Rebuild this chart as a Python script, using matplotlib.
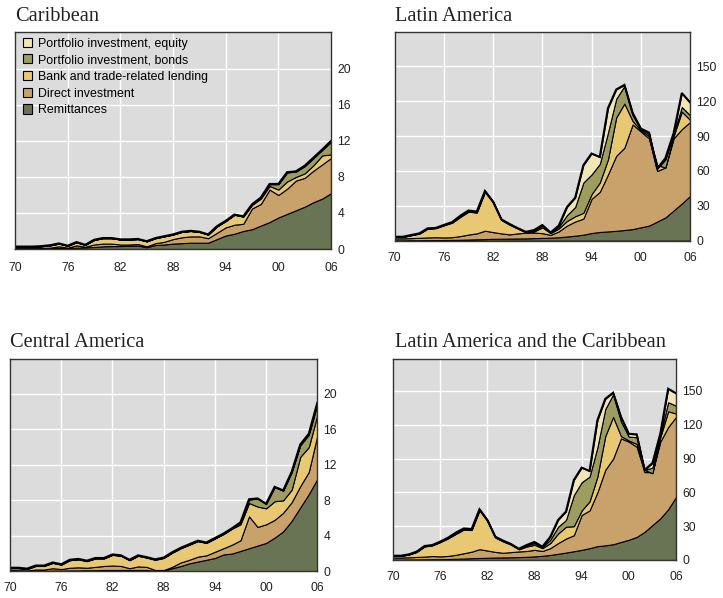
import numpy as np
import matplotlib
matplotlib.use("Agg")
import matplotlib.pyplot as plt
from matplotlib.patches import Rectangle

years = np.arange(1970, 2007)
xtick_years = [1970, 1976, 1982, 1988, 1994, 2000, 2006]
xtick_labels = ["70", "76", "82", "88", "94", "00", "06"]

series_names = ["Remittances", "Direct investment", "Bank and trade-related lending",
                "Portfolio investment, bonds", "Portfolio investment, equity"]
colors = ["#687453", "#C9A26B", "#E8C873", "#9C9D5F", "#F0E6B6"]

# ---------------- Caribbean (US$ billions) ----------------
carib_rem = [0.05, 0.05, 0.06, 0.08, 0.1, 0.12, 0.12, 0.15, 0.18, 0.22, 0.3, 0.32, 0.33, 0.35, 0.38, 0.2,
             0.45, 0.5, 0.6, 0.65, 0.7, 0.7, 0.7, 1.1, 1.5, 1.7, 2.0, 2.2, 2.6, 3.0, 3.5, 3.9, 4.3, 4.7,
             5.2, 5.6, 6.2]
carib_fdi = [0.05, 0.05, 0.04, 0.04, 0.05, 0.18, 0.03, 0.25, 0.07, 0.28, 0.3, 0.28, 0.17, 0.15, 0.17, 0.1,
             0.2, 0.3, 0.5, 0.65, 0.7, 0.7, 0.5, 0.7, 0.9, 1.0, 0.8, 2.3, 2.4, 3.6, 2.5, 2.8, 3.3, 3.2,
             3.5, 3.8, 3.9]
carib_bank = [0.15, 0.15, 0.15, 0.18, 0.25, 0.3, 0.2, 0.35, 0.2, 0.5, 0.6, 0.6, 0.55, 0.55, 0.55, 0.55,
              0.55, 0.6, 0.5, 0.6, 0.6, 0.5, 0.4, 0.7, 0.7, 1.1, 0.8, 0.4, 0.6, 0.4, 0.6, 0.8, 0.4, 0.5,
              0.6, 1.0, 0.4]
carib_bonds = [0.01, 0.01, 0.01, 0.01, 0.01, 0.01, 0.01, 0.01, 0.01, 0.01, 0.01, 0.01, 0.01, 0.01, 0.01,
               0.01, 0.01, 0.01, 0.01, 0.01, 0.01, 0.01, 0.01, 0.02, 0.02, 0.02, 0.02, 0.05, 0.1, 0.2,
               0.6, 1.0, 0.6, 0.8, 0.8, 0.6, 1.4]
carib_equity = [0.01] * 29 + [0.02, 0.03, 0.03, 0.03, 0.05, 0.05, 0.05, 0.1]

# ---------------- Latin America ----------------
la_rem = [0.3, 0.3, 0.4, 0.4, 0.5, 0.5, 0.6, 0.7, 0.8, 1.0, 1.2, 1.4, 1.6, 1.7, 1.8, 1.9, 2.0, 2.2,
          2.4, 2.6, 3.0, 3.6, 4.3, 5.2, 6.6, 7.5, 8.0, 8.5, 9.2, 10.0, 11.5, 13.0, 16.5, 20.0, 26.0,
          32.0, 38.5]
la_fdi = [1.7, 1.7, 1.8, 2.1, 2.3, 2.5, 2.2, 2.3, 3.2, 4.3, 5.1, 7.2, 5.8, 4.6, 3.6, 4.4, 4.9, 4.8,
          4.1, 2.4, 5.0, 9.4, 12.2, 13.8, 29.4, 34.5, 49.0, 64.5, 70.8, 90.0, 82.5, 75.0, 43.5, 43.0,
          62.0, 64.0, 63.5]
la_bank = [1.2, 1.2, 2.5, 3.6, 7.5, 7.8, 10.5, 12.5, 16.5, 19.7, 17.9, 33.4, 25.4, 11.5, 8.4, 4.1,
           0.3, 1.0, 5.0, 1.5, 2.5, 4.0, 4.5, 5.0, 4.0, 8.0, 13.0, 33.0, 38.0, 3.0, 1.0, 2.0, 5.0,
           0.0, 2.0, 15.0, 2.0]
la_bonds = [0.2, 0.2, 0.2, 0.2, 0.3, 0.2, 0.3, 0.5, 1.0, 1.0, 0.8, 0.8, 0.7, 0.6, 0.6, 0.4, 0.4, 1.0,
            1.5, 0.5, 1.5, 5.0, 8.0, 26.0, 17.0, 16.0, 23.0, 16.0, 15.0, 5.0, 1.0, 2.0, -3.0, 7.0,
            2.0, 4.0, 4.0]
la_equity = [0.0] * 17 + [0.2, 0.5, 0.0, 1.0, 7.0, 8.0, 15.0, 18.0, 6.0, 21.0, 8.0, 1.0, 2.0, 0.5,
                          1.0, 0.0, 1.0, 0.5, 12.0, 11.0]

# ---------------- Central America ----------------
ca_rem = [0.05, 0.05, 0.05, 0.06, 0.07, 0.08, 0.08, 0.1, 0.1, 0.12, 0.12, 0.15, 0.15, 0.15, 0.15,
          0.15, 0.15, 0.05, 0.05, 0.35, 0.6, 0.9, 1.1, 1.3, 1.5, 1.9, 2.0, 2.3, 2.6, 2.9, 3.2, 3.8,
          4.5, 5.7, 7.2, 8.7, 10.4]
ca_fdi = [0.1, 0.07, 0.05, 0.14, 0.13, 0.27, 0.17, 0.3, 0.35, 0.28, 0.38, 0.45, 0.5, 0.45, 0.2, 0.4,
          0.35, 0.1, 0.1, 0.15, 0.4, 0.4, 0.55, 0.5, 0.7, 0.7, 1.0, 1.2, 3.6, 2.1, 2.1, 2.0, 2.1,
          2.1, 2.4, 2.5, 4.9]
ca_bank = [0.2, 0.23, 0.15, 0.4, 0.4, 0.6, 0.5, 0.85, 0.9, 0.75, 0.95, 0.85, 1.2, 1.15, 0.9, 1.2,
           1.05, 1.15, 1.35, 1.6, 1.6, 1.7, 1.75, 1.4, 1.5, 1.6, 1.8, 1.8, 1.5, 2.3, 1.8, 2.1, 1.4,
           1.4, 3.3, 2.8, 2.3]
ca_bonds = [0.03] * 27 + [0.2, 0.4, 0.9, 0.5, 1.6, 1.1, 2.0, 1.3, 1.4, 1.2]
ca_equity = [0.02] * 34 + [0.1, 0.1, 0.2]

# ---------------- Latin America and the Caribbean ----------------
lac_rem = [0.4, 0.4, 0.5, 0.5, 0.6, 0.7, 0.8, 0.9, 1.1, 1.3, 1.6, 1.8, 2.0, 2.2, 2.3, 2.4, 2.6, 2.8,
           3.2, 3.7, 4.5, 5.5, 6.6, 7.8, 9.0, 10.5, 12.3, 13.0, 14.0, 16.0, 18.0, 20.5, 25.0, 31.0,
           37.0, 45.0, 56.0]
lac_fdi = [1.8, 1.8, 1.9, 2.2, 2.4, 2.8, 2.4, 2.7, 3.5, 4.7, 5.8, 7.8, 6.4, 5.0, 4.1, 4.6, 5.0, 5.2,
           5.8, 4.3, 6.0, 9.5, 12.4, 14.2, 31.0, 33.5, 47.7, 67.0, 76.0, 92.0, 87.0, 80.0, 53.0, 47.0,
           68.0, 73.0, 71.0]
lac_bank = [1.4, 1.4, 2.4, 4.4, 9.0, 9.5, 12.7, 15.6, 18.6, 21.0, 19.2, 34.4, 26.3, 12.8, 10.1, 6.7,
            1.9, 4.0, 4.5, 2.5, 4.5, 8.5, 10.5, 8.0, 4.0, 8.0, 14.0, 30.0, 37.0, 2.0, 1.0, 2.5, 2.0,
            -1.0, 4.0, 14.0, 3.0]
lac_bonds = [0.2, 0.2, 0.2, 0.3, 0.4, 0.3, 0.4, 0.6, 1.1, 1.0, 0.9, 1.0, 0.8, 0.7, 0.7, 0.5, 0.5, 1.0,
             1.5, 1.0, 3.0, 6.0, 6.0, 27.5, 25.0, 22.0, 26.0, 24.0, 20.0, 13.0, 3.5, 6.0, 0.0, 5.0,
             2.0, 8.0, 7.0]
lac_equity = [0.0] * 17 + [0.3, 1.0, 0.3, 2.5, 6.0, 7.5, 13.5, 13.0, 5.0, 24.0, 9.0, 1.5, 4.0, 2.5,
                           2.5, 0.0, 4.0, 1.0, 12.0, 11.0]

W, H = 723, 598
fig = plt.figure(figsize=(W / 100, H / 100), dpi=100)
fig.patch.set_facecolor("white")

def px_axes(left, top, right, bottom):
    return fig.add_axes([left / W, 1 - bottom / H, (right - left) / W, (bottom - top) / H])

panels = [
    dict(title="Caribbean", box=(15, 32, 331, 249), data=[carib_rem, carib_fdi, carib_bank, carib_bonds, carib_equity],
         ylim=24.1, yticks=[0, 4, 8, 12, 16, 20], tx=15, ty=21, xpad=9.5, legend=True),
    dict(title="Latin America", box=(394.7, 32, 690, 240.7), data=[la_rem, la_fdi, la_bank, la_bonds, la_equity],
         ylim=179.5, yticks=[0, 30, 60, 90, 120, 150], tx=395, ty=21, xpad=8, legend=False),
    dict(title="Central America", box=(10, 359.3, 317.3, 571.3), data=[ca_rem, ca_fdi, ca_bank, ca_bonds, ca_equity],
         ylim=23.9, yticks=[0, 4, 8, 12, 16, 20], tx=10, ty=347, xpad=7.5, legend=False),
    dict(title="Latin America and the Caribbean", box=(393, 359, 676, 560),
         data=[lac_rem, lac_fdi, lac_bank, lac_bonds, lac_equity],
         ylim=178.4, yticks=[0, 30, 60, 90, 120, 150], tx=395, ty=347, xpad=8, legend=False),
]

for p in panels:
    l, t, r, b = p["box"]
    ax = px_axes(l, t, r, b)
    ax.set_facecolor("#DCDCDC")
    vals = [np.array(v, dtype=float) for v in p["data"]]
    ax.stackplot(years, *vals, colors=colors, edgecolor="black", linewidth=0.8, zorder=2)
    total = np.sum(vals, axis=0)
    ax.plot(years, total, color="black", lw=1.5, zorder=3, solid_joinstyle="miter")
    ax.set_xlim(1970, 2006)
    ax.set_ylim(0, p["ylim"])
    ax.set_xticks(xtick_years)
    ax.set_xticklabels(xtick_labels)
    ax.set_yticks(p["yticks"])
    ax.yaxis.tick_right()
    ax.grid(True, color="white", lw=1.0, zorder=0)
    ax.set_axisbelow(True)
    ax.tick_params(axis="both", length=0, labelsize=8.7, colors="#222222",
                   labelfontfamily="Liberation Sans")
    ax.tick_params(axis="x", pad=p["xpad"])
    ax.tick_params(axis="y", pad=4.5)
    for s in ax.spines.values():
        s.set_color("#333333")
        s.set_linewidth(1.0)
        s.set_zorder(4)
    fig.text(p["tx"] / W, 1 - p["ty"] / H, p["title"], family="Liberation Serif", fontsize=14.7,
             color="#222222", ha="left", va="baseline")
    if p["legend"]:
        handles = [Rectangle((0, 0), 1, 1, facecolor=c, edgecolor="black", linewidth=0.8) for c in colors]
        ax.legend(handles[::-1], series_names[::-1], loc="upper left",
                  bbox_to_anchor=((23 - l) / (r - l), 1 - (37.5 - t) / (b - t)),
                  frameon=False, borderpad=0, borderaxespad=0, handlelength=0.75, handleheight=0.75,
                  handletextpad=0.45, labelspacing=0.38,
                  prop={"family": "Liberation Sans", "size": 8.9})

fig.savefig("out.png", dpi=100)
